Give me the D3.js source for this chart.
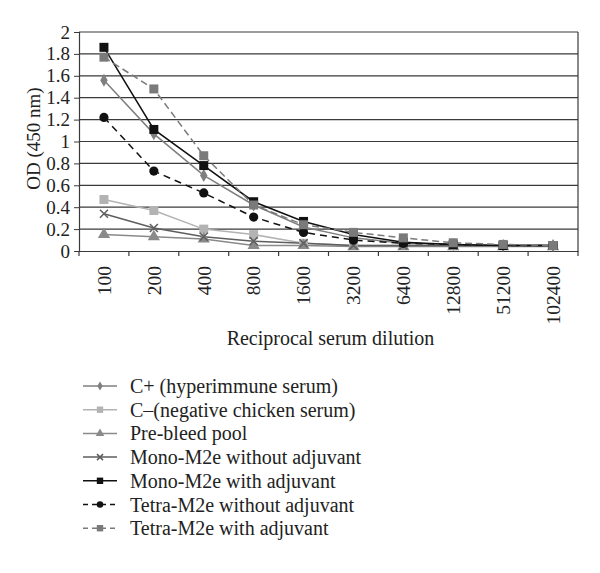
<!DOCTYPE html>
<html><head><meta charset="utf-8">
<script src="https://cdn.jsdelivr.net/npm/d3@7"></script>
<style>body{margin:0;background:#fff}</style>
</head><body>
<svg id="c" width="600" height="573"></svg>
<script>
const categories = ["100","200","400","800","1600","3200","6400","12800","51200","102400"];
const yTicks = [0,0.2,0.4,0.6,0.8,1,1.2,1.4,1.6,1.8,2];
const seriesNames = ["C+ (hyperimmune serum)","C\u2013(negative chicken serum)","Pre-bleed pool","Mono-M2e without adjuvant","Mono-M2e with adjuvant","Tetra-M2e without adjuvant","Tetra-M2e with adjuvant"];
const cPlus     = [1.56,1.07,0.69,0.42,0.22,0.12,0.07,0.06,0.05,0.05];
const cMinus    = [0.47,0.37,0.20,0.15,0.07,0.05,0.05,0.05,0.05,0.05];
const preBleed  = [0.15,0.13,0.11,0.05,0.05,0.04,0.04,0.04,0.04,0.04];
const monoNoAdj = [0.34,0.21,0.13,0.09,0.07,0.05,0.05,0.05,0.05,0.05];
const monoAdj   = [1.86,1.11,0.78,0.45,0.27,0.15,0.08,0.06,0.05,0.05];
const tetraNoAdj= [1.22,0.73,0.53,0.31,0.17,0.10,0.07,0.06,0.05,0.05];
const tetraAdj  = [1.77,1.48,0.87,0.42,0.24,0.17,0.12,0.075,0.06,0.05];

const series = [
 {name:seriesNames[0], values:cPlus, color:"#7f7f7f", sym:"diamond", dash:null},
 {name:seriesNames[1], values:cMinus, color:"#b3b3b3", sym:"square", dash:null},
 {name:seriesNames[2], values:preBleed, color:"#8a8a8a", sym:"triangle", dash:null},
 {name:seriesNames[3], values:monoNoAdj, color:"#5e5e5e", sym:"x", dash:null},
 {name:seriesNames[4], values:monoAdj, color:"#111111", sym:"square", dash:null},
 {name:seriesNames[5], values:tetraNoAdj, color:"#111111", sym:"circle", dash:"7,5"},
 {name:seriesNames[6], values:tetraAdj, color:"#7a7a7a", sym:"square", dash:"7,4"}
];

const svg = d3.select("#c");
const L=79, R=578, T=32, B=251;
const x = d3.scaleBand().domain(categories).range([L,R]);
const y = d3.scaleLinear().domain([0,2]).range([B,T]);
const font = "'Liberation Serif', 'DejaVu Serif', serif";

// gridlines
svg.append("g").selectAll("line").data(yTicks.filter(d=>d>0)).join("line")
  .attr("x1",L).attr("x2",R).attr("y1",d=>y(d)).attr("y2",d=>y(d))
  .attr("stroke","#3a3a3a").attr("stroke-width",1.2);
// right border
svg.append("line").attr("x1",R).attr("x2",R).attr("y1",T).attr("y2",B).attr("stroke","#3a3a3a").attr("stroke-width",1.2);

// y axis
const yAxis = svg.append("g").attr("transform",`translate(${L},0)`)
  .call(d3.axisLeft(y).tickValues(yTicks).tickFormat(d=>String(d)).tickSize(5).tickPadding(4));
yAxis.select(".domain").attr("stroke","#3a3a3a").attr("stroke-width",1.2);
yAxis.selectAll(".tick line").attr("stroke","#3a3a3a");
yAxis.selectAll("text").attr("font-family",font).attr("font-size",19).attr("fill","#222");

// x axis
const xAxis = svg.append("g").attr("transform",`translate(0,${B})`)
  .call(d3.axisBottom(x).tickSize(0).tickPadding(0));
xAxis.select(".domain").attr("stroke","#3a3a3a").attr("stroke-width",1.2);
xAxis.selectAll(".tick text")
  .attr("font-family",font).attr("font-size",19.5).attr("fill","#222")
  .attr("transform","rotate(-90)").attr("text-anchor","end")
  .attr("x",-15).attr("y",0).attr("dy","0.35em");
// ticks between categories
const bounds = d3.range(categories.length+1).map(i=>L+i*x.step());
svg.append("g").selectAll("line").data(bounds).join("line")
  .attr("x1",d=>d).attr("x2",d=>d).attr("y1",B).attr("y2",B+5)
  .attr("stroke","#3a3a3a").attr("stroke-width",1.2);

// axis titles
svg.append("text").attr("x",(L+R)/2+2).attr("y",345).attr("text-anchor","middle")
  .attr("font-family",font).attr("font-size",20).attr("fill","#222").text("Reciprocal serum dilution");
svg.append("text").attr("transform",`translate(33,${(T+B)/2-3}) rotate(-90)`).attr("text-anchor","middle").attr("dy","0.35em")
  .attr("font-family",font).attr("font-size",19).attr("fill","#222").text("OD (450 nm)");

function drawSym(g, sym, cx, cy, color, s){
  if(sym==="x"){
    g.append("path").attr("d",`M${cx-s},${cy-s}L${cx+s},${cy+s}M${cx-s},${cy+s}L${cx+s},${cy-s}`)
      .attr("stroke",color).attr("stroke-width",1.5).attr("fill","none");
    return;
  }
  const typ = {diamond:d3.symbolDiamond, square:d3.symbolSquare, triangle:d3.symbolTriangle, circle:d3.symbolCircle}[sym];
  const size = {diamond:s*s*2.4, square:s*s*4, triangle:s*s*3.2, circle:s*s*3.3}[sym];
  g.append("path").attr("d",d3.symbol(typ,size)()).attr("transform",`translate(${cx},${cy})`).attr("fill",color);
}

const line = d3.line().x((d,i)=>x(categories[i])+x.bandwidth()/2).y(d=>y(d));
const plot = svg.append("g");
series.forEach(s=>{
  plot.append("path").datum(s.values).attr("d",line).attr("fill","none")
    .attr("stroke",s.color).attr("stroke-width",1.5).attr("stroke-dasharray",s.dash);
});
series.forEach(s=>{
  const g = plot.append("g");
  s.values.forEach((v,i)=>drawSym(g,s.sym,x(categories[i])+x.bandwidth()/2,y(v),s.color,s.sym==="x"?4:4.5));
});

// legend
const lg = svg.append("g");
series.forEach((s,i)=>{
  const yy = 386 + i*23.7;
  lg.append("line").attr("x1",83).attr("x2",117).attr("y1",yy).attr("y2",yy)
    .attr("stroke",s.color).attr("stroke-width",1.5).attr("stroke-dasharray",s.dash?"5,4":null);
  drawSym(lg,s.sym,100,yy,s.color,s.sym==="x"?3:3.2);
  lg.append("text").attr("x",130).attr("y",yy).attr("dy","0.35em")
    .attr("font-family",font).attr("font-size",20).attr("fill","#222").text(s.name);
});
</script>
</body></html>
